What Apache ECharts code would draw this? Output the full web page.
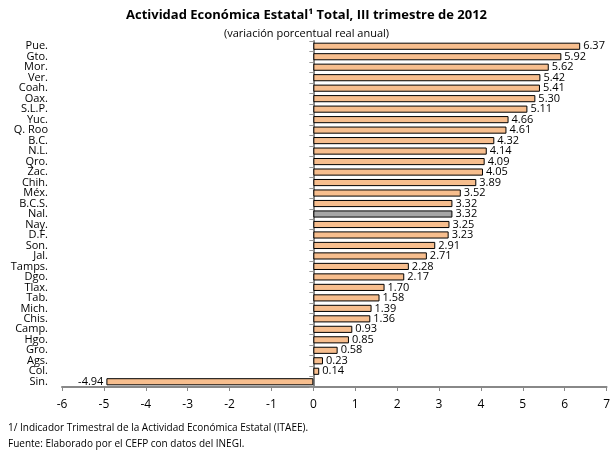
<!DOCTYPE html>
<html><head><meta charset="utf-8">
<script src="https://cdn.jsdelivr.net/npm/echarts@6/dist/echarts.min.js"></script>
<style>html,body{margin:0;padding:0;background:#fff}#c{width:613px;height:451px}</style>
</head><body><div id="c"></div>
<script>
const categories = ["Pue.","Gto.","Mor.","Ver.","Coah.","Oax.","S.L.P.","Yuc.","Q. Roo","B.C.","N.L.","Qro.","Zac.","Chih.","Méx.","B.C.S.","Nal.","Nay.","D.F.","Son.","Jal.","Tamps.","Dgo.","Tlax.","Tab.","Mich.","Chis.","Camp.","Hgo.","Gro.","Ags.","Col.","Sin."];
const values = [6.37,5.92,5.62,5.42,5.41,5.30,5.11,4.66,4.61,4.32,4.14,4.09,4.05,3.89,3.52,3.32,3.32,3.25,3.23,2.91,2.71,2.28,2.17,1.70,1.58,1.39,1.36,0.93,0.85,0.58,0.23,0.14,-4.94];
const highlight = "Nal.";
const xTicks = {min:-6, max:7, interval:1};
const FONT = "Open Sans";
const chart = echarts.init(document.getElementById('c'));
chart.setOption({
  animation:false,
  textStyle:{fontFamily:FONT},
  title:[
    {text:"Actividad Económica Estatal¹ Total, III trimestre de 2012", left:'center', top:4,
     textStyle:{fontFamily:FONT,fontSize:13,fontWeight:'bold',color:'#000'}},
    {text:"(variación porcentual real anual)", left:'center', top:23,
     textStyle:{fontFamily:FONT,fontSize:11,fontWeight:'normal',color:'#000'}}
  ],
  graphic:[
    {type:'text',left:8,top:423,style:{text:"1/ Indicador Trimestral de la Actividad Económica Estatal (ITAEE).",font:"10px 'Open Sans'",fill:'#000'}},
    {type:'text',left:8,top:439,style:{text:"Fuente: Elaborado por el CEFP con datos del INEGI.",font:"10px 'Open Sans'",fill:'#000'}}
  ],
  grid:{left:62,right:3,top:41,bottom:64},
  xAxis:{type:'value',min:xTicks.min,max:xTicks.max,interval:xTicks.interval,
    splitLine:{show:false},
    axisLine:{show:true,lineStyle:{color:'#888',width:2}},
    axisTick:{show:true,length:4,lineStyle:{color:'#888'}},
    axisLabel:{color:'#000',fontSize:12,margin:12,fontFamily:FONT}},
  yAxis:[
    {type:'category',data:categories,inverse:true,position:'left',
     axisLine:{show:false,onZero:false},axisTick:{show:false},
     axisLabel:{color:'#000',fontSize:11,margin:14,fontFamily:FONT,interval:0,lineHeight:10}},
    {type:'category',data:categories,inverse:true,position:'left',
     axisLine:{show:true,onZero:true,onZeroAxisIndex:0,lineStyle:{color:'#888',width:2}},
     axisTick:{show:true,interval:0,length:4,lineStyle:{color:'#999'}},
     axisLabel:{show:false}}
  ],
  series:[{
    type:'bar',yAxisIndex:0,
    data:values.map((v,i)=>({value:v,
      itemStyle:{color:categories[i]===highlight?'#A6A6A6':'#F7BE8E'},
      label:v<0?{position:'left'}:undefined})),
    barCategoryGap:'32%',
    itemStyle:{borderColor:'#000',borderWidth:1},
    label:{show:true,position:'right',formatter:p=>p.value.toFixed(2),color:'#000',fontSize:11,fontFamily:FONT,distance:3}
  }]
});
</script></body></html>
